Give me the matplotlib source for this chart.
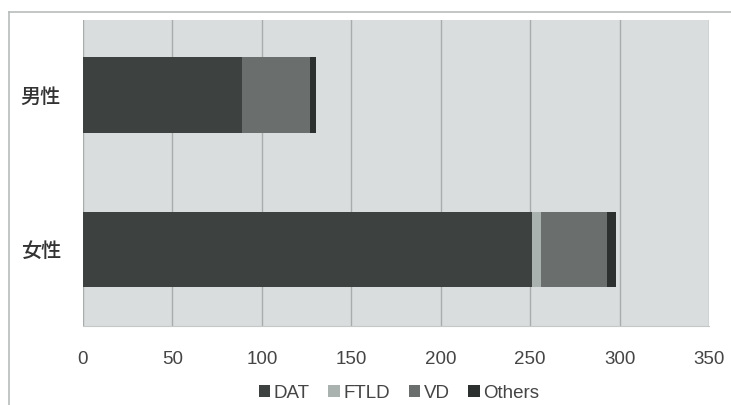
import matplotlib
matplotlib.use("Agg")
import matplotlib.pyplot as plt
import numpy as np

categories = ["女性", "男性"]
series_names = ["DAT", "FTLD", "VD", "Others"]
DAT = [251, 89]
FTLD = [5, 0]
VD = [37, 38]
Others = [5, 3]
xticks = [0, 50, 100, 150, 200, 250, 300, 350]

colors = ["#3d4241", "#aab2b0", "#6a6e6d", "#2c302f"]
values = [DAT, FTLD, VD, Others]

fig = plt.figure(figsize=(7.31, 4.05), dpi=100)
fig.patch.set_facecolor("white")
# outer frame lines (top and left)
fig.add_artist(plt.Line2D([9/731, 1], [1-12/405, 1-12/405], color="#b8bcbb", lw=1.2, transform=fig.transFigure))
fig.add_artist(plt.Line2D([9/731, 9/731], [0, 1-12/405], color="#b8bcbb", lw=1.2, transform=fig.transFigure))

ax = fig.add_axes([83/731, 1-326/405, (709-83)/731, (326-20)/405])
ax.set_facecolor("#dadddd")
ypos = np.arange(len(categories))
left = np.zeros(len(categories))
handles = []
for name, vals, c in zip(series_names, values, colors):
    b = ax.barh(ypos, vals, left=left, height=0.49, color=c, label=name, zorder=3)
    left += np.array(vals)
    handles.append(b)

ax.set_xlim(0, 350)
ax.set_ylim(-0.497, 1.487)
ax.set_xticks(xticks)
ax.set_xticklabels([str(t) for t in xticks], fontsize=13.5, color="#454545", family=["Liberation Sans", "DejaVu Sans"])
ax.set_yticks(ypos)
ax.set_yticklabels(categories, fontsize=14.5, color="#333333", fontweight="medium", family=["Noto Sans CJK JP", "DejaVu Sans"])
ax.tick_params(axis="both", length=0)
ax.tick_params(axis="x", pad=18)
ax.tick_params(axis="y", pad=16)
ax.xaxis.grid(True, color="#a8acab", lw=1.0, zorder=0)
for s in ax.spines.values():
    s.set_visible(False)
ax.spines["bottom"].set_visible(True)
ax.spines["bottom"].set_color("#c4c8c7")

leg = fig.legend(handles=handles, labels=series_names, loc="center", bbox_to_anchor=(399/731, 1-393/405),
                 ncol=4, frameon=False, handlelength=0.6, handleheight=0.6, handletextpad=0.2,
                 columnspacing=1.0, prop={"family": ["Liberation Sans", "DejaVu Sans"], "size": 13.5})
for t in leg.get_texts():
    t.set_color("#454545")

fig.savefig("out.png", dpi=100)
